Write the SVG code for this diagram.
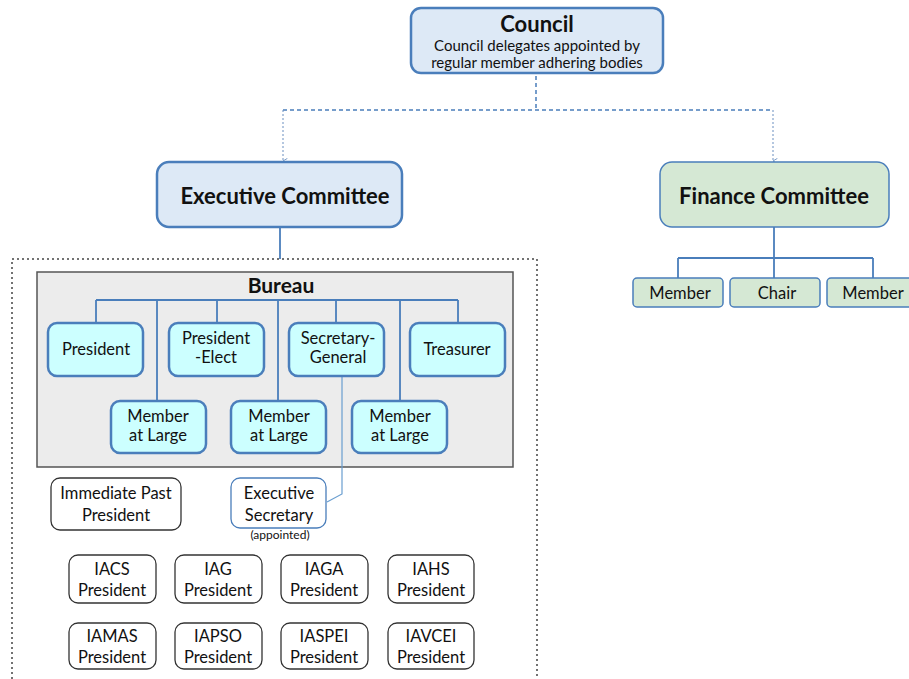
<svg xmlns="http://www.w3.org/2000/svg" width="909" height="679" viewBox="0 0 909 679">
<defs>
<style>
text{font-family:Lato,"Open Sans","Liberation Sans",sans-serif;fill:#111;text-anchor:middle}
.t{font-size:16.5px}
.b{font-weight:bold}
.blue{fill:#dde9f6;stroke:#4a7ebb;stroke-width:2.5}
.cyan{fill:#ccffff;stroke:#4a7ebb;stroke-width:2.5}
.green{fill:#d5e8d4;stroke:#4a7ebb;stroke-width:1.5}
.plain{fill:#fff;stroke:#333;stroke-width:1.3}
.conn{fill:none;stroke:#4a7ebb;stroke-width:1.8}
</style>
<marker id="ah" viewBox="0 0 8 8" refX="4" refY="7" markerWidth="7" markerHeight="7" orient="auto-start-reverse" markerUnits="userSpaceOnUse">
<path d="M1,2 L4,7 L7,2" fill="none" stroke="#6a8fc0" stroke-width="1"/>
</marker>
</defs>
<rect width="909" height="679" fill="#fff"/>

<g id="execbox">
<rect x="12" y="259" width="525" height="440" fill="none" stroke="#444" stroke-width="1.5" stroke-dasharray="2,3"/>
</g>

<g id="bureau">
<rect x="37" y="272" width="476" height="195" fill="#ececec" stroke="#555" stroke-width="1.5"/>
<text x="281" y="293" class="b" style="font-size:21px">Bureau</text>
</g>

<g id="connectors">
<path d="M536,76 V110" fill="none" stroke="#4a7ebb" stroke-width="1.5" stroke-dasharray="4,3"/>
<path d="M283,110 H773" fill="none" stroke="#4a7ebb" stroke-width="1.5" stroke-dasharray="4,3"/>
<path d="M283,110 V161" fill="none" stroke="#6a8fc0" stroke-width="1" stroke-dasharray="2,2" marker-end="url(#ah)"/>
<path d="M773,110 V161" fill="none" stroke="#6a8fc0" stroke-width="1" stroke-dasharray="2,2" marker-end="url(#ah)"/>
<path d="M280,228 V259" class="conn" stroke-width="1.5"/>
<path d="M96,300 H458 M96,300 V323 M157,300 V401 M217,300 V323 M278,300 V401 M336,300 V323 M400,300 V401 M458,300 V323" class="conn" stroke-width="2.5"/>
<path d="M342,376 V494 L327,502" fill="none" stroke="#6a9ed0" stroke-width="1.2"/>
<path d="M774,227 V258 M678,258 H873 M678,258 V278 M774,258 V278 M873,258 V278" class="conn" stroke-width="1.5"/>
</g>

<g id="council">
<rect x="411" y="8" width="252" height="65" rx="10" class="blue" stroke-width="1.5"/>
<text x="537" y="32" class="b" style="font-size:22px">Council</text>
<text x="537" y="51" style="font-size:15px">Council delegates  appointed by</text>
<text x="537" y="68" style="font-size:15px">regular member adhering bodies</text>
</g>

<g id="exec">
<rect x="157" y="162" width="245" height="65" rx="12" class="blue"/>
<text x="285" y="204" class="b" style="font-size:22px">Executive Committee</text>
</g>

<g id="finance">
<rect x="660" y="162" width="229" height="65" rx="12" class="green"/>
<text x="774" y="204" class="b" style="font-size:22px">Finance Committee</text>
</g>

<g id="fin-member1"><rect x="633" y="278" width="90" height="29" rx="4" class="green"/><text x="680" y="299" class="t">Member</text></g>
<g id="fin-chair"><rect x="730" y="278" width="90" height="29" rx="4" class="green"/><text x="777" y="299" class="t">Chair</text></g>
<g id="fin-member2"><rect x="827" y="278" width="92" height="29" rx="4" class="green"/><text x="873" y="299" class="t">Member</text></g>

<g id="president"><rect x="48" y="323" width="95" height="53" rx="9" class="cyan"/><text x="96" y="355" class="t">President</text></g>
<g id="president-elect"><rect x="169" y="323" width="95" height="53" rx="9" class="cyan"/><text x="216" y="344" class="t">President</text><text x="216" y="363" class="t">-Elect</text></g>
<g id="secgen"><rect x="289" y="323" width="95" height="53" rx="9" class="cyan"/><text x="338" y="344" class="t">Secretary-</text><text x="338" y="363" class="t">General</text></g>
<g id="treasurer"><rect x="410" y="323" width="95" height="53" rx="9" class="cyan"/><text x="457" y="355" class="t">Treasurer</text></g>
<g id="mal1"><rect x="111" y="401" width="95" height="52" rx="9" class="cyan"/><text x="158" y="422" class="t">Member</text><text x="158" y="441" class="t">at Large</text></g>
<g id="mal2"><rect x="231" y="401" width="95" height="52" rx="9" class="cyan"/><text x="279" y="422" class="t">Member</text><text x="279" y="441" class="t">at Large</text></g>
<g id="mal3"><rect x="352" y="401" width="95" height="52" rx="9" class="cyan"/><text x="400" y="422" class="t">Member</text><text x="400" y="441" class="t">at Large</text></g>

<g id="past-president"><rect x="51" y="478" width="130" height="52" rx="9" class="plain"/><text x="116" y="499" class="t">Immediate Past</text><text x="116" y="521" class="t">President</text></g>
<g id="exec-secretary"><rect x="231" y="478" width="95" height="50" rx="9" fill="#fff" stroke="#4a7ebb" stroke-width="1.3"/><text x="279" y="499" class="t">Executive</text><text x="279" y="521" class="t">Secretary</text><text x="280" y="539" style="font-size:12px">(appointed)</text></g>

<g id="iacs"><rect x="69" y="555" width="87" height="48" rx="9" class="plain"/><text x="112" y="575" class="t">IACS</text><text x="112" y="596" class="t">President</text></g>
<g id="iag"><rect x="175" y="555" width="87" height="48" rx="9" class="plain"/><text x="218" y="575" class="t">IAG</text><text x="218" y="596" class="t">President</text></g>
<g id="iaga"><rect x="281" y="555" width="87" height="48" rx="9" class="plain"/><text x="324" y="575" class="t">IAGA</text><text x="324" y="596" class="t">President</text></g>
<g id="iahs"><rect x="388" y="555" width="86" height="48" rx="9" class="plain"/><text x="431" y="575" class="t">IAHS</text><text x="431" y="596" class="t">President</text></g>
<g id="iamas"><rect x="69" y="623" width="87" height="46" rx="9" class="plain"/><text x="112" y="642" class="t">IAMAS</text><text x="112" y="663" class="t">President</text></g>
<g id="iapso"><rect x="175" y="623" width="87" height="46" rx="9" class="plain"/><text x="218" y="642" class="t">IAPSO</text><text x="218" y="663" class="t">President</text></g>
<g id="iaspei"><rect x="281" y="623" width="87" height="46" rx="9" class="plain"/><text x="324" y="642" class="t">IASPEI</text><text x="324" y="663" class="t">President</text></g>
<g id="iavcei"><rect x="388" y="623" width="86" height="46" rx="9" class="plain"/><text x="431" y="642" class="t">IAVCEI</text><text x="431" y="663" class="t">President</text></g>
</svg>
